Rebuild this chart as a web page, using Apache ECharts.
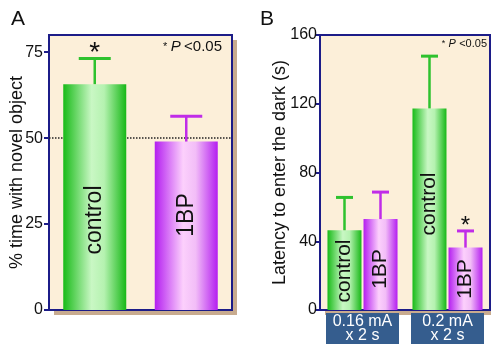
<!DOCTYPE html>
<html><head><meta charset="utf-8">
<script src="https://cdn.jsdelivr.net/npm/echarts@6/dist/echarts.min.js"></script>
<style>html,body{margin:0;padding:0;background:#fff}#c{width:491px;height:354px}</style>
</head><body><div id="c"></div>
<script>
// Panel A
const catsA = ['control', '1BP'];
const valsA = [65.7, 49.0];
const errA = [73.2, 56.4];
const ticksA = [0, 25, 50, 75];
// Panel B
const catsB = ['0.16 mA\nx 2 s', '0.2 mA\nx 2 s'];
const ctrlB = [46.4, 117.3];
const ctrlErrB = [65.5, 147.7];
const bpB = [52.9, 36.3];
const bpErrB = [68.6, 46.0];
const ticksB = [0, 40, 80, 120, 160];

const chart = echarts.init(document.getElementById('c'), null, {renderer: 'canvas'});
const FONT = 'Liberation Sans, Arial, sans-serif';
const grn = {type:'linear',x:0,y:0,x2:1,y2:0,colorStops:[{offset:0,color:'#18bb18'},{offset:0.45,color:'#c9f7c4'},{offset:0.65,color:'#b5f2b0'},{offset:1,color:'#17b817'}]};
const pur = {type:'linear',x:0,y:0,x2:1,y2:0,colorStops:[{offset:0,color:'#b41ef0'},{offset:0.45,color:'#fcd0fc'},{offset:0.65,color:'#f2bdf7'},{offset:1,color:'#b41ef0'}]};
const GC = '#2ec22e', PC = '#c02ce8';

function errRender(offset, capW, color, starIdx, starSize) {
  return function (params, api) {
    const i = api.value(0);
    const p0 = api.coord([i, api.value(1)]);
    const p1 = api.coord([i, api.value(2)]);
    const x = p0[0] + offset;
    const ch = [
      {type:'line', shape:{x1:x,y1:p0[1],x2:x,y2:p1[1]}, style:{stroke:color,lineWidth:2.5}},
      {type:'line', shape:{x1:x-capW/2,y1:p1[1],x2:x+capW/2,y2:p1[1]}, style:{stroke:color,lineWidth:3}}
    ];
    if (starIdx.indexOf(params.dataIndex) >= 0) {
      ch.push({type:'text', x:x, y:p1[1]-5, style:{text:'*', fill:'#111', font:starSize+'px '+FONT, align:'center', verticalAlign:'middle'}});
    }
    return {type:'group', children: ch};
  };
}

const gridCommon = {show:true, backgroundColor:'#fcefd9', borderColor:'#1c1c88', borderWidth:2};

const option = {
  animation:false,
  textStyle:{fontFamily:FONT},
  graphic:[
    {type:'rect', z:-10, shape:{x:54, y:40, width:183, height:275}, style:{fill:'#c8ab8f'}},
    {type:'rect', z:-10, shape:{x:325, y:40, width:166, height:275}, style:{fill:'#c8ab8f'}},
    {type:'text', left:11, top:9, style:{text:'A', font:'21px '+FONT, fill:'#111'}},
    {type:'text', left:260, top:9, style:{text:'B', font:'21px '+FONT, fill:'#111'}},
    {type:'text', right:269, top:39, style:{rich:{s:{fontSize:11,fontFamily:FONT,fill:'#111'},p:{fontSize:15,fontStyle:'italic',fontFamily:FONT,fill:'#111'},n:{fontSize:15,fontFamily:FONT,fill:'#111'}}, text:'{s|*} {p|P} {n|<0.05}'}},
    {type:'text', right:4, top:38, style:{rich:{s:{fontSize:9,fontFamily:FONT,fill:'#111'},p:{fontSize:11,fontStyle:'italic',fontFamily:FONT,fill:'#111'},n:{fontSize:11,fontFamily:FONT,fill:'#111'}}, text:'{s|*} {p|P} {n|<0.05}'}}
  ],
  grid:[
    Object.assign({left:49, right:259, top:35, bottom:44}, gridCommon),
    Object.assign({left:320, right:1, top:35, bottom:44}, gridCommon)
  ],
  xAxis:[
    {type:'category', gridIndex:0, data:catsA, axisLine:{show:false}, axisTick:{show:false}, axisLabel:{show:false}},
    {type:'category', gridIndex:1, data:catsB, axisLine:{show:false}, axisTick:{show:false},
     axisLabel:{margin:3, color:'#fff', fontSize:16, lineHeight:14, backgroundColor:'#355d8e', padding:[2,0,1,0], width:73, align:'center', fontFamily:FONT}}
  ],
  yAxis:[
    {type:'value', gridIndex:0, min:0, max:80, interval:25, splitLine:{show:false},
     axisLine:{show:true, lineStyle:{color:'#1c1c88', width:2}}, axisTick:{show:true, length:5, customValues:ticksA, lineStyle:{color:'#1c1c88', width:2}},
     axisLabel:{color:'#111', fontSize:16, margin:6, fontFamily:FONT, customValues:ticksA},
     name:'% time with novel object', nameLocation:'middle', nameGap:23, nameMoveOverlap:false, nameTextStyle:{fontSize:18, color:'#111', fontFamily:FONT}},
    {type:'value', gridIndex:1, min:0, max:160, interval:40, splitLine:{show:false},
     axisLine:{show:true, lineStyle:{color:'#1c1c88', width:2}}, axisTick:{show:true, length:4, customValues:ticksB, lineStyle:{color:'#1c1c88', width:2}},
     axisLabel:{color:'#111', fontSize:16, margin:3, fontFamily:FONT, customValues:ticksB},
     name:'Latency to enter the dark (s)', nameLocation:'middle', nameGap:31, nameMoveOverlap:false, nameTextStyle:{fontSize:18, color:'#111', fontFamily:FONT}}
  ],
  series:[
    {type:'bar', xAxisIndex:0, yAxisIndex:0, barWidth:63, z:3,
     data: valsA.map((v,i)=>({value:v, itemStyle:{color: i===0?grn:pur},
       label:{show:true, formatter: catsA[i], position:'insideBottom', distance: i===0?90:95, rotate:90, align:'center', verticalAlign:'middle', fontSize:23, color:'#111', fontFamily:FONT}})),
     markLine:{silent:true, symbol:'none', z:1, label:{show:false}, lineStyle:{type:'dotted', color:'#222', width:1.5}, data:[{yAxis:50}]}},
    {type:'custom', xAxisIndex:0, yAxisIndex:0, z:4,
     renderItem: function(params, api){ const c = params.dataIndex===0?GC:PC; return errRender(0, 32, c, [0], 28)(params, api); },
     data: valsA.map((v,i)=>[i, v, errA[i]])},
    {type:'bar', name:'control', xAxisIndex:1, yAxisIndex:1, barWidth:34, barGap:'6%', z:3,
     itemStyle:{color:grn},
     label:{show:true, formatter:'control', position:'insideBottom', rotate:90, align:'center', verticalAlign:'middle', fontSize:21, color:'#111', fontFamily:FONT},
     data: ctrlB.map((v,i)=>({value:v, label:{distance: i===0?39:106}}))},
    {type:'bar', name:'1BP', xAxisIndex:1, yAxisIndex:1, barWidth:34, barGap:'6%', z:3,
     itemStyle:{color:pur},
     label:{show:true, formatter:'1BP', position:'insideBottom', rotate:90, align:'center', verticalAlign:'middle', fontSize:21, color:'#111', fontFamily:FONT},
     data: bpB.map((v,i)=>({value:v, label:{distance: i===0?41:31}}))},
    {type:'custom', xAxisIndex:1, yAxisIndex:1, z:4, renderItem: errRender(-18, 17, GC, [], 24),
     data: ctrlB.map((v,i)=>[i, v, ctrlErrB[i]])},
    {type:'custom', xAxisIndex:1, yAxisIndex:1, z:4, renderItem: errRender(18, 17, PC, [1], 24),
     data: bpB.map((v,i)=>[i, v, bpErrB[i]])}
  ]
};
chart.setOption(option);
</script></body></html>
